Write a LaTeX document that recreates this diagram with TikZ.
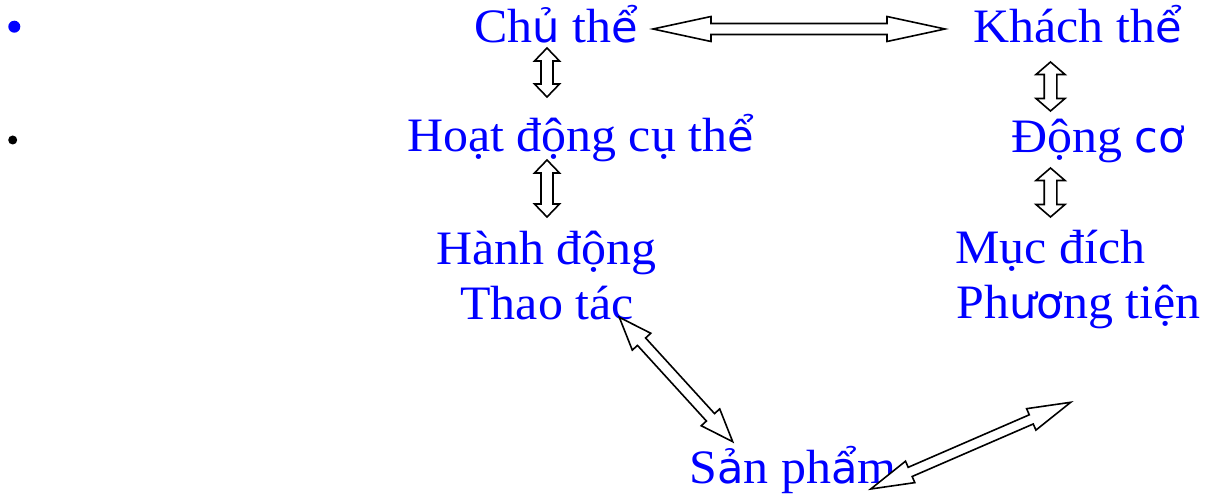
\documentclass[tikz,border=0pt]{standalone}
\usepackage{fontspec}
\setmainfont{Liberation Serif}[FakeStretch=1.04]
\newfontfamily\fbkfont{DejaVu Sans}[Scale=0.9]
\usetikzlibrary{calc}
\definecolor{txtblue}{RGB}{0,0,255}
% glyphs set in the fallback sans face
\newcommand\fbk[1]{{\fbkfont #1}}

\tikzset{
  lbl/.style={anchor=base, inner sep=0pt, text=txtblue,
    font=\fontsize{48}{57}\selectfont},
  % block double arrow: head length, head half width, shaft half width
  blockarrow/.style n args={3}{draw=black, fill=white, line width=1.6pt,
    line join=miter,
    to path={let \p1=(\tikztostart), \p2=(\tikztotarget) in
      (\p1) -- ($(\p1)!#1pt!(\p2)!#2pt!90:(\p2)$)
      -- ($(\p1)!#1pt!(\p2)!#3pt!90:(\p2)$)
      -- ($(\p2)!#1pt!(\p1)!#3pt!-90:(\p1)$)
      -- ($(\p2)!#1pt!(\p1)!#2pt!-90:(\p1)$)
      -- (\p2)
      -- ($(\p2)!#1pt!(\p1)!#2pt!90:(\p1)$)
      -- ($(\p2)!#1pt!(\p1)!#3pt!90:(\p1)$)
      -- ($(\p1)!#1pt!(\p2)!#3pt!-90:(\p2)$)
      -- ($(\p1)!#1pt!(\p2)!#2pt!-90:(\p2)$)
      -- cycle}},
}

\begin{document}
\begin{tikzpicture}[x=1pt, y=-1pt]
  \useasboundingbox (0,0) rectangle (1209,494);

  % bullets
  \fill[txtblue] (14.3,26.7) circle (6) coordinate (b1);
  \fill[black] (12.7,140) circle (4.5) coordinate (b2);

  % left column
  \node[lbl] (chu)   at (556,43)    {Ch\fbk{ủ} th\fbk{ể}};
  \node[lbl] (hoat)  at (580.5,152) {Hoạt động cụ th\fbk{ể}};
  \node[lbl] (hanh)  at (546.5,265) {Hành động};
  \node[lbl] (thao)  at (547,319)   {Thao tác};

  % right column
  \node[lbl] (khach) at (1077.5,43) {Khách th\fbk{ể}};
  \node[lbl] (dong)  at (1098,153)  {Động \fbk{cơ}};
  \node[lbl] (muc)   at (1050.5,263){Mục đích};
  \node[lbl] (phuong) at (1078.5,318){Ph\fbk{ươ}ng tiện};

  % bottom
  \node[lbl] (san)   at (793,483)   {S\fbk{ả}n ph\fbk{ẩ}m};
  \coordinate (free) at (1070.7,402.3);

  % connectors
  \draw[blockarrow={58}{12.5}{5.5}]
    ($(chu.base)+(97,-14)$) to ($(khach.base)+(-132.5,-14)$);
  \draw[blockarrow={13}{12.5}{6}]
    ($(chu.base)+(-9,5)$) to ($(hoat.base)+(-33.5,-55)$);
  \draw[blockarrow={13}{12.5}{6}]
    ($(hoat.base)+(-33.5,8)$) to ($(hanh.base)+(0.5,-48)$);
  \draw[blockarrow={12.5}{14.5}{6.3}]
    ($(khach.base)+(-27,19)$) to ($(dong.base)+(-47.5,-42)$);
  \draw[blockarrow={12.5}{14.5}{6.3}]
    ($(dong.base)+(-47.5,15)$) to ($(muc.base)+(0,-46)$);
  \draw[blockarrow={33}{12.5}{5.5}]
    ($(thao.base)+(72.3,-1.7)$) to ($(san.base)+(-60.3,-41.3)$);
  \draw[blockarrow={43}{11.7}{5}]
    ($(san.base)+(77.7,6)$) to (free);
\end{tikzpicture}
\end{document}
